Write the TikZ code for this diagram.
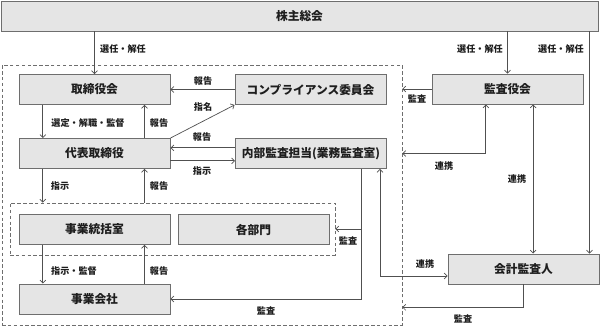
\documentclass[tikz,border=0pt]{standalone}
\usepackage{fontspec}
\setmainfont{Noto Sans CJK JP}
\usepackage{tikz}
\usetikzlibrary{arrows.meta, positioning}
\usepackage{xcolor}
\definecolor{boxgray}{RGB}{229, 229, 229}
\definecolor{edgegray}{RGB}{110, 110, 110}
\definecolor{linegray}{RGB}{80, 80, 80}
\definecolor{textdark}{RGB}{30, 30, 30}
\tikzset{
  org/.style     = {rectangle, draw=edgegray, fill=boxgray, line width=0.8pt, minimum width=4.53cm, minimum height=0.9cm, align=center, text=textdark, font=\fontsize{10}{12}\selectfont\bfseries},
  grp/.style     = {rectangle, draw=edgegray, dashed, dash pattern=on 3pt off 2pt, line width=0.6pt},
  lbl/.style     = {text=textdark, font=\fontsize{7.8}{9}\selectfont\bfseries, inner sep=0pt},
  link/.style    = {-{Straight Barb[length=2.5pt,width=5pt]}, linegray, line width=0.6pt},
  linkboth/.style= {{Straight Barb[length=2.5pt,width=5pt]}-{Straight Barb[length=2.5pt,width=5pt]}, linegray, line width=0.6pt},
}
\begin{document}
\begin{tikzpicture}[x=0.03cm, y=-0.03cm]

\useasboundingbox (0,0) rectangle (600,327);

% 株主総会
\node[org, minimum width=17.91cm] (kabunushi) at (299.5,16) {株主総会};

% 点線枠
\node[grp, minimum width=12cm, minimum height=7.8cm] (grp_outer) at (202,195) {};
\node[grp, minimum width=9.75cm, minimum height=1.56cm] (grp_inner) at (172.5,229) {};

% 社内の組織
\node[org] (torishimari) at (94.5,89.5) {取締役会};
\node[org] (compliance) at (310.5,89.5) {コンプライアンス委員会};
\node[org] (daihyo) at (94.5,153.5) {代表取締役};
\node[org] (naibu) at (311,153.5) {内部監査担当(業務監査室)};
\node[org] (toukatsu) at (94.5,229.5) {事業統括室};
\node[org] (kakubumon) at (253.5,229.5) {各部門};
\node[org] (gaisha) at (94.5,299) {事業会社};

% 監査役会・会計監査人
\node[org] (kansayaku) at (507.5,89) {監査役会};
\node[org] (kaikei) at (523.5,269) {会計監査人};

% 矢印の出入り口
\coordinate (kaikei_top) at ([xshift=-0.3cm]kaikei.north east);
\coordinate (t_l) at ([xshift=-1.55cm]torishimari.south);
\coordinate (t_r) at ([xshift=1.5cm]torishimari.south);
\coordinate (d_l) at ([xshift=-1.55cm]daihyo.south);
\coordinate (d_r) at ([xshift=1.5cm]daihyo.south);
\coordinate (j_l) at ([xshift=-1.55cm]toukatsu.south);
\coordinate (j_r) at ([xshift=1.5cm]toukatsu.south);
\coordinate (n_out) at ([xshift=1.5cm]naibu.south);
\coordinate (n_kk) at ([xshift=2.07cm]naibu.south);
\coordinate (k_l) at ([xshift=-0.65cm]kansayaku.south);
\coordinate (k_r) at ([xshift=0.77cm]kansayaku.south);

% 矢印：株主総会から
\draw[link] (kabunushi.south -| torishimari.north) -- (torishimari.north);
\draw[link] (kabunushi.south -| kansayaku.north) -- (kansayaku.north);
\draw[link] (kabunushi.south -| kaikei_top) -- (kaikei_top);

% 矢印：取締役会まわり
\draw[link] (compliance.west) -- (torishimari.east);
\draw[link] (daihyo.north east) -- (compliance.south west);
\draw[link] (t_l) -- (t_l |- daihyo.north);
\draw[link] (t_r |- daihyo.north) -- (t_r);
\draw[link] ([yshift=0.17cm]naibu.west) -- ([yshift=0.17cm]daihyo.east);
\draw[link] ([yshift=-0.22cm]daihyo.east) -- ([yshift=-0.22cm]naibu.west);

% 矢印：代表取締役から下
\draw[link] (d_l) -- (d_l |- grp_inner.north);
\draw[link] (d_r |- grp_inner.north) -- (d_r);
\draw[link] (j_l) -- (j_l |- gaisha.north);
\draw[link] (j_r |- gaisha.north) -- (j_r);

% 矢印：内部監査
\draw[link] (n_out) |- (gaisha.east);
\draw[link] (n_out |- grp_inner.east) -- (grp_inner.east);
\draw[linkboth] (n_kk) |- ([yshift=-0.21cm]kaikei.west);

% 矢印：監査役会・会計監査人
\draw[link] (kansayaku.west) -- (kansayaku.west -| grp_outer.east);
\draw[linkboth] (k_l) |- (grp_outer.east |- naibu.east);
\draw[linkboth] (k_r) -- (k_r |- kaikei.north);
\draw[link] (kaikei.south) |- ([yshift=0.54cm]grp_outer.south east);

% ラベル
\node[lbl] (l_sen1) at (123,49) {選任・解任};
\node[lbl] (l_sen2) at (480,49) {選任・解任};
\node[lbl] (l_sen3) at (561,49) {選任・解任};
\node[lbl] (l_hou1) at (203,81) {報告};
\node[lbl] (l_shimei) at (203,107) {指名};
\node[lbl] (l_sentei) at (88,123) {選定・解職・監督};
\node[lbl] (l_hou2) at (159,123) {報告};
\node[lbl] (l_hou3) at (202,137) {報告};
\node[lbl] (l_shiji1) at (202,171) {指示};
\node[lbl] (l_shiji2) at (60,186) {指示};
\node[lbl] (l_hou4) at (159,186) {報告};
\node[lbl] (l_kansa1) at (348,241) {監査};
\node[lbl] (l_shijikan) at (74,271) {指示・監督};
\node[lbl] (l_hou5) at (159,271) {報告};
\node[lbl] (l_kansa2) at (266,311) {監査};
\node[lbl] (l_kansa3) at (417,99) {監査};
\node[lbl] (l_renkei1) at (444,166) {連携};
\node[lbl] (l_renkei2) at (517,179) {連携};
\node[lbl] (l_renkei3) at (425,264) {連携};
\node[lbl] (l_kansa4) at (463,319) {監査};

\end{tikzpicture}
\end{document}
